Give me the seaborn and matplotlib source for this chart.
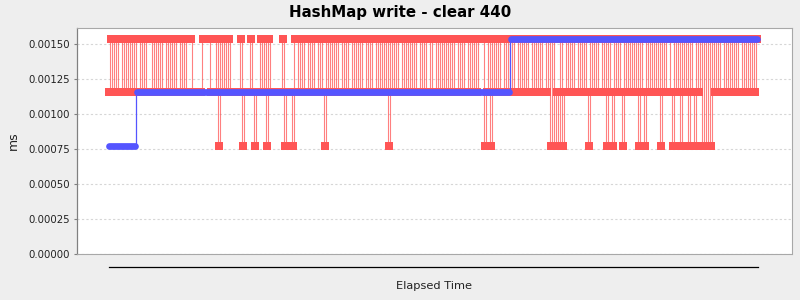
import matplotlib
matplotlib.use("Agg")
import matplotlib.pyplot as plt
import seaborn as sns
import pandas as pd

# ---- data ----
TITLE = "HashMap write - clear 440"
Y_LABEL = "ms"
X_LABEL = "Elapsed Time"
Y_TICKS = [0.0, 0.00025, 0.0005, 0.00075, 0.001, 0.00125, 0.0015]

# the three observed value levels (ms)
LEVELS = {"H": 0.001538, "M": 0.001154, "L": 0.000769}

# red series: one level code per sample (sample index = elapsed time step)
RED_CODES = [
    "MHMHMHHMHM", "HMHMHHMHMH", "HHMHMHMHHM", "HMHMHHMHMH", "HHMMMMMHHH",
    "HMMMHLHMHM", "HMMMMMHLMM", "MHMLMMHMHL", "HMMMMMMHLM", "MMLHHMHMHH",
    "MHMHHMHMLH", "MHMHMHHMHM", "HHMHMHMHHM", "HMHHMHMHMH", "LHMHMHHMHM",
    "HMHMHHMHMH", "HMHHMHMHMH", "MHMHHMHMHH", "MHMHMHHHLM", "HLHMHMHHMH",
    "MHMHHMHMHM", "HHMHMHMHHM", "HLHLMLHLMH", "MHMHHMHMHM", "LHMHMHHMHL",
    "HMLHMHMLHM", "HMHMHLHMLH", "MHMHMHLHMH", "HMLHMHLHMH", "LHMLHMHLHL",
    "HLHMHMHHMH", "MHMHMHHMHM", "HMHMH",
]
# blue series: (level, number of samples) runs
BLUE_RUNS = [("L", 14), ("M", 187), ("H", 124)]

RED_COLOR = "#FF5555"
BLUE_COLOR = "#5555FF"

# ---- build tables ----
red_seq = "".join(RED_CODES)
red_df = pd.DataFrame({"t": range(len(red_seq)),
                       "ms": [LEVELS[c] for c in red_seq]})
blue_seq = "".join(code * n for code, n in BLUE_RUNS)
blue_df = pd.DataFrame({"t": range(len(blue_seq)),
                        "ms": [LEVELS[c] for c in blue_seq]})

sns.set_style("white")
plt.rcParams["font.family"] = ["DejaVu Sans"]

fig = plt.figure(figsize=(8, 3), dpi=100, facecolor="#EEEEEE")
ax = fig.add_axes([77 / 800, 1 - 254 / 300, 715 / 800, 226 / 300])
ax.set_facecolor("white")

sns.lineplot(data=red_df, x="t", y="ms", ax=ax, color=RED_COLOR,
             marker="s", markersize=5.2, markeredgewidth=0,
             linewidth=0.8, drawstyle="steps-mid",
             estimator=None, sort=False, legend=False, zorder=3)
red_line = ax.lines[-1]
red_line.set_color((1.0, 0.333, 0.333, 0.75))
red_line.set_markerfacecolor(RED_COLOR)

sns.lineplot(data=blue_df, x="t", y="ms", ax=ax, color=BLUE_COLOR,
             marker="o", markersize=4.8, markeredgewidth=0,
             linewidth=0.9, drawstyle="steps-mid",
             estimator=None, sort=False, legend=False, zorder=4)

n = len(red_seq)
ax.set_xlim(-16, n - 1 + 17.5)
ax.set_ylim(0, 0.001614)

ax.set_yticks(Y_TICKS)
ax.set_yticklabels([f"{v:.5f}" for v in Y_TICKS])
ax.set_xticks([])
ax.tick_params(axis="y", length=2, width=0.8, color="#808080",
               labelsize=7.3, pad=3, labelcolor="#222222", left=True)

ax.yaxis.grid(True, color="#D6D6D6", linestyle=(0, (2, 2)), linewidth=0.8)
ax.xaxis.grid(False)
ax.set_axisbelow(True)

for side in ("top", "right"):
    ax.spines[side].set_visible(True)
    ax.spines[side].set_color("#A8A8A8")
    ax.spines[side].set_linewidth(0.8)
ax.spines["left"].set_color("#808080")
ax.spines["left"].set_linewidth(0.9)
ax.spines["bottom"].set_position(("outward", 9.4))
ax.spines["bottom"].set_bounds(0, n - 0.5)
ax.spines["bottom"].set_color("black")
ax.spines["bottom"].set_linewidth(0.9)
ax.axhline(0, color="#A8A8A8", linewidth=0.8, clip_on=False, zorder=5)

ax.set_ylabel(Y_LABEL, fontsize=9, labelpad=6, color="#222222")
ax.set_xlabel(X_LABEL, fontsize=8.2, color="#222222")
ax.xaxis.set_label_coords(0.5, -0.1416)
ax.xaxis.label.set_va("center")

fig.text(0.5, 1 - 13 / 300, TITLE, ha="center", va="center",
         fontsize=10.8, fontweight="bold", color="black")

fig.savefig("out.png", dpi=100, facecolor=fig.get_facecolor())
